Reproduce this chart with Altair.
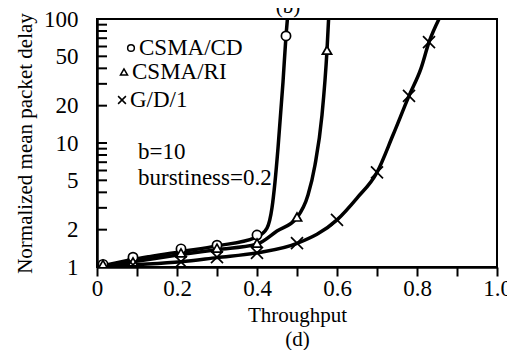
import altair as alt
import pandas as pd

FONT = "Liberation Serif"
SERIES = ["CSMA/CD", "CSMA/RI", "G/D/1"]
XPATH = "M-1.3,-1.3L1.3,1.3M-1.3,1.3L1.3,-1.3"
SHAPES = ["circle", "triangle-up", XPATH]

# Curves
cd_curve_x = [0.0, 0.09, 0.21, 0.30, 0.40, 0.425, 0.4375, 0.445, 0.4525, 0.465, 0.4725, 0.476]
cd_curve_y = [1.0, 1.15, 1.33, 1.48, 1.75, 2.06, 3.0, 4.85, 9.1, 31.0, 73.0, 100.0]
ri_curve_x = [0.0, 0.09, 0.21, 0.30, 0.40, 0.45, 0.50, 0.5275, 0.545, 0.5625, 0.575, 0.579]
ri_curve_y = [1.0, 1.1, 1.26, 1.38, 1.53, 1.95, 2.5, 3.8, 6.65, 16.8, 56.0, 100.0]
gd_curve_x = [0.0, 0.09, 0.21, 0.30, 0.40, 0.50, 0.60, 0.65, 0.70, 0.74, 0.78, 0.81, 0.83, 0.855]
gd_curve_y = [1.0, 1.04, 1.1, 1.19, 1.3, 1.55, 2.4, 3.6, 5.8, 11.6, 24.0, 40.0, 65.0, 100.0]

# Markers
cd_pts_x = [0.015, 0.09, 0.21, 0.30, 0.40, 0.4725]
cd_pts_y = [1.05, 1.2, 1.40, 1.5, 1.81, 73.0]
ri_pts_x = [0.015, 0.09, 0.21, 0.30, 0.40, 0.50, 0.575]
ri_pts_y = [1.05, 1.10, 1.30, 1.42, 1.56, 2.53, 56.0]
gd_pts_x = [0.09, 0.21, 0.30, 0.40, 0.50, 0.60, 0.70, 0.78, 0.83]
gd_pts_y = [1.04, 1.10, 1.2, 1.3, 1.56, 2.4, 5.8, 24.0, 65.0]

x_tick_vals = [0.0, 0.1, 0.2, 0.3, 0.4, 0.5, 0.6, 0.7, 0.8, 0.9, 1.0]
y_label_vals = [1, 2, 5, 10, 20, 50, 100]
y_tick_vals = [1, 2, 3, 4, 5, 6, 7, 8, 9, 10, 20, 30, 40, 50, 60, 70, 80, 90, 100]

lines_df = pd.concat([
    pd.DataFrame({"x": cd_curve_x, "y": cd_curve_y, "series": SERIES[0]}),
    pd.DataFrame({"x": ri_curve_x, "y": ri_curve_y, "series": SERIES[1]}),
    pd.DataFrame({"x": gd_curve_x, "y": gd_curve_y, "series": SERIES[2]}),
])
pts_df = pd.concat([
    pd.DataFrame({"x": cd_pts_x, "y": cd_pts_y, "series": SERIES[0]}),
    pd.DataFrame({"x": ri_pts_x, "y": ri_pts_y, "series": SERIES[1]}),
    pd.DataFrame({"x": gd_pts_x, "y": gd_pts_y, "series": SERIES[2]}),
])
ticks_df = pd.DataFrame({"y": y_tick_vals})

X = alt.X("x:Q", scale=alt.Scale(domain=[0, 1], nice=False, zero=False),
          axis=alt.Axis(values=x_tick_vals,
                        labelExpr="datum.value == 0 ? '0' : (round(datum.value*10) % 2 == 0 ? format(datum.value, '.1f') : '')",
                        title=["Throughput", "(d)"], tickSize=9, labelPadding=1,
                        titlePadding=4, labelFontSize=23, titleFontSize=21,
                        titleLineHeight=24, labelFlush=False, labelOverlap=False))
Y = alt.Y("y:Q", scale=alt.Scale(type="log", domain=[1, 100], nice=False),
          axis=alt.Axis(values=y_label_vals, ticks=False, labelPadding=19,
                        title="Normalized mean packet delay", titlePadding=8,
                        labelFontSize=23, titleFontSize=21, labelFlush=False,
                        labelOverlap=False))

lines = alt.Chart(lines_df).mark_line(
    interpolate="monotone", strokeWidth=3.5, color="black", clip=True
).encode(x=X, y=Y, detail="series:N")

points = alt.Chart(pts_df).mark_point(
    filled=True, fill="white", stroke="black", strokeWidth=1.7,
    opacity=1, size=85, clip=True
).encode(
    x=X, y=Y,
    shape=alt.Shape("series:N", scale=alt.Scale(domain=SERIES, range=SHAPES), legend=None),
)

yticks = alt.Chart(ticks_df).mark_rule(color="black", strokeWidth=2).encode(
    y=Y, x=alt.value(0), x2=alt.value(10)
)

# hand-drawn key, as in the original figure
key_sym_pos = [(34, 29, 45), (27, 53, 50), (25, 81, 36)]
key_lab_pos = [(42, 29), (35, 53), (33, 81)]
key_layers = []
for name, shp, (sx, sy, ss), (lx, ly) in zip(SERIES, SHAPES, key_sym_pos, key_lab_pos):
    key_layers.append(
        alt.Chart(pd.DataFrame({"s": [name]})).mark_point(
            shape=shp, size=ss, filled=True, fill="white", stroke="black",
            strokeWidth=1.5, opacity=1
        ).encode(x=alt.value(sx), y=alt.value(sy))
    )
    key_layers.append(
        alt.Chart(pd.DataFrame({"s": [name]})).mark_text(
            align="left", baseline="middle", font=FONT, fontSize=23, color="black"
        ).encode(text="s:N", x=alt.value(lx), y=alt.value(ly))
    )

txt_b = alt.Chart(pd.DataFrame({"t": ["b=10"]})).mark_text(
    align="left", baseline="middle", font=FONT, fontSize=23, color="black"
).encode(text="t:N", x=alt.value(41), y=alt.value(133))
txt_burst = alt.Chart(pd.DataFrame({"t": ["burstiness=0.2"]})).mark_text(
    align="left", baseline="middle", font=FONT, fontSize=23, color="black"
).encode(text="t:N", x=alt.value(41), y=alt.value(159))
txt_top = alt.Chart(pd.DataFrame({"t": ["(b)"]})).mark_text(
    align="center", baseline="bottom", font=FONT, fontSize=21, color="black"
).encode(text="t:N", x=alt.value(191), y=alt.value(-2))

chart = alt.layer(yticks, lines, points, *key_layers, txt_b, txt_burst, txt_top).properties(
    width=400, height=248,
    autosize=alt.AutoSizeParams(type="none"),
    padding={"left": 89, "top": 11, "right": 10, "bottom": 83},
).configure_view(
    stroke="black", strokeWidth=2
).configure_axis(
    grid=False, domainColor="black", domainWidth=2.5, tickColor="black", tickWidth=2,
    labelColor="black", titleColor="black", labelFont=FONT, titleFont=FONT,
    titleFontWeight="normal"
)

chart.save("out.html", embed_options={"renderer": "svg", "actions": False})
